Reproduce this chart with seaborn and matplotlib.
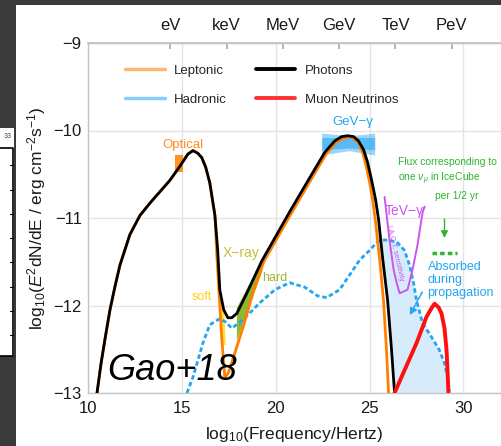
import numpy as np
import matplotlib
matplotlib.use("Agg")
import matplotlib.pyplot as plt
from matplotlib.patches import Rectangle
from matplotlib.lines import Line2D
import seaborn as sns

# ---------------------------------------------------------------------------
# Spectral energy distribution: x = log10(nu / Hz), y = log10(E^2 dN/dE)
# ---------------------------------------------------------------------------
photons_logf = [10.48, 10.69, 10.90, 11.17, 11.44, 11.70, 12.23, 12.77, 13.30, 13.83,
                14.36, 14.89, 15.32, 15.59, 15.85, 16.06, 16.27, 16.49,
                16.76, 16.91, 17.02, 17.23, 17.45, 17.66, 17.93, 18.46, 19.26, 20.74,
                21.81, 22.61, 23.14, 23.51, 23.83, 24.15, 24.41, 24.68, 24.89, 25.11,
                25.32, 25.48, 25.69, 25.96, 26.17, 26.33]
photons_flux = [-13.00, -12.67, -12.39, -12.05, -11.78, -11.54, -11.19, -10.97, -10.83, -10.70,
                -10.57, -10.41, -10.27, -10.23, -10.26, -10.31, -10.42, -10.60,
                -10.97, -11.37, -11.82, -12.05, -12.14, -12.14, -12.09, -11.86, -11.49, -10.93,
                -10.54, -10.25, -10.12, -10.07, -10.06, -10.07, -10.12, -10.22, -10.36, -10.57,
                -10.79, -11.02, -11.45, -11.94, -12.51, -13.00]

lepto_logf = [10.48, 10.69, 10.90, 11.17, 11.44, 11.70, 12.23, 12.77, 13.30, 13.83,
              14.36, 14.89, 15.32, 15.59, 15.85, 16.06, 16.27, 16.49,
              16.76, 16.86, 16.97, 17.13, 17.29, 17.50, 17.87, 18.30, 18.78, 19.36,
              20.85, 21.91, 22.71, 23.24, 23.62, 23.94, 24.20, 24.41, 24.63, 24.79,
              25.00, 25.16, 25.32, 25.53, 25.74, 25.90, 26.01]
lepto_flux = [-13.00, -12.67, -12.39, -12.05, -11.78, -11.54, -11.19, -10.97, -10.83, -10.70,
              -10.57, -10.41, -10.27, -10.23, -10.26, -10.31, -10.42, -10.60,
              -10.97, -11.42, -11.82, -12.39, -12.83, -12.76, -12.51, -12.22, -11.86, -11.50,
              -10.94, -10.55, -10.26, -10.13, -10.09, -10.07, -10.10, -10.14, -10.25, -10.38,
              -10.59, -10.79, -11.05, -11.46, -11.94, -12.51, -13.00]

hadro_logf = [15.27, 15.59, 16.12, 16.49, 17.02, 17.34, 17.66, 18.09, 18.46, 19.15,
              19.95, 20.74, 21.54, 22.23, 22.71, 23.40, 23.94, 24.47, 25.00, 25.43,
              25.80, 26.44, 26.86, 27.13, 27.34, 27.50, 27.82, 28.30, 28.72, 28.99,
              29.15, 29.26]
hadro_flux = [-13.00, -12.82, -12.43, -12.22, -12.15, -12.19, -12.26, -12.19, -12.12, -11.97,
              -11.82, -11.74, -11.79, -11.89, -11.91, -11.82, -11.65, -11.48, -11.37, -11.27,
              -11.25, -11.27, -11.37, -11.54, -11.74, -11.94, -12.20, -12.36, -12.51, -12.66,
              -12.82, -12.98]

nu_logf = [26.33, 26.86, 27.50, 28.03, 28.30, 28.46, 28.67, 28.83, 28.99, 29.10, 29.15, 29.20]
nu_flux = [-13.00, -12.74, -12.43, -12.13, -12.03, -11.98, -12.02, -12.09, -12.26, -12.51, -12.74, -13.00]

iact_logf = [25.80, 26.06, 26.28, 26.44, 26.60, 27.02, 27.29, 27.55, 27.82, 27.93]
iact_flux = [-10.76, -11.25, -11.59, -11.74, -11.86, -11.82, -11.59, -11.31, -10.94, -10.87]

# Fermi-LAT style butterflies
gev_logf = [22.45, 23.90, 25.27]
gev_lo_outer = [-10.28, -10.23, -10.28]
gev_hi_outer = [-10.03, -10.06, -10.03]
gev_lo_inner = [-10.22, -10.20, -10.22]
gev_hi_inner = [-10.08, -10.08, -10.08]

hard_x_logf = [17.93, 19.30, 19.30, 17.93]
hard_x_flux = [-12.03, -11.46, -11.60, -12.40]
soft_x_logf = [16.97, 17.23, 17.34, 17.13]
soft_x_flux = [-11.94, -11.97, -12.45, -12.45]

optical_logf = [14.65, 15.05]
optical_lo = -10.47
optical_hi = -10.28

energy_ticks = [14.38, 17.38, 20.38, 23.38, 26.38, 29.38]
energy_labels = ["eV", "keV", "MeV", "GeV", "TeV", "PeV"]
freq_ticks = [10, 15, 20, 25, 30]
flux_ticks = [-13, -12, -11, -10, -9]

ORANGE = "#FF8000"
BLUE = "#22A5F2"
RED = "#FF1010"
PURPLE = "#CC55EE"
GREEN = "#2DB52D"

sns.set_theme(style="white")
plt.rcParams["font.family"] = ["Liberation Sans", "DejaVu Sans"]
plt.rcParams["mathtext.fontset"] = "custom"
plt.rcParams["mathtext.rm"] = "Liberation Sans"
plt.rcParams["mathtext.it"] = "Liberation Sans:italic"
plt.rcParams["mathtext.bf"] = "Liberation Sans:bold"

W, H = 501, 446
fig = plt.figure(figsize=(W / 100, H / 100), dpi=100, facecolor="#3a3a3a")

# slide background: white panel holding the plot, and a neighbouring panel
fig.add_artist(Rectangle((16 / W, 0), 1, (H - 5) / H, transform=fig.transFigure,
                         facecolor="white", edgecolor="none", zorder=-2))
fig.add_artist(Rectangle((0, 1 - 356 / H), 14 / W, (356 - 128) / H, transform=fig.transFigure,
                         facecolor="white", edgecolor="none", zorder=-2))
fig.add_artist(Line2D([0, 13 / W, 13 / W, 0], [1 - 148 / H, 1 - 148 / H, 1 - 356 / H, 1 - 356 / H],
                      transform=fig.transFigure, color="black", lw=1.2, zorder=-1))
for ty in [165, 190, 214, 238, 262, 287, 311, 335]:
    fig.add_artist(Line2D([10 / W, 13 / W], [1 - ty / H, 1 - ty / H],
                          transform=fig.transFigure, color="black", lw=0.8, zorder=-1))
fig.text(12 / W, 1 - 137 / H, "33", fontsize=5, color="#444444", ha="right", va="center")

ax = fig.add_axes([88 / W, 1 - 393 / H, (W - 88) / W, 350 / H])
ax.set_facecolor("white")

# absorbed part of the hadronic spectrum (between the photon cut-off and the unabsorbed curve)
hf = np.array(hadro_logf)
hy = np.array(hadro_flux)
pf = np.array(photons_logf)
py = np.array(photons_flux)
keep_h = hf >= 25.6
keep_p = (pf >= 25.6) & (py <= -11.27)
abs_f = np.concatenate([[25.6], hf[keep_h], [hf[-1]], pf[keep_p][::-1]])
abs_y = np.concatenate([[-11.26], hy[keep_h], [-13.0], py[keep_p][::-1]])
ax.fill(abs_f, abs_y, color="#d6ecfb", lw=0, zorder=1)

# GeV butterfly
ax.fill_between(gev_logf, gev_lo_outer, gev_hi_outer, color=BLUE, alpha=0.45, lw=0, zorder=2)
ax.fill_between(gev_logf, gev_lo_inner, gev_hi_inner, color=BLUE, alpha=0.55, lw=0, zorder=2)

# X-ray butterflies and optical point
ax.fill(hard_x_logf, hard_x_flux, color="#8DB832", lw=0, zorder=2)
ax.fill(soft_x_logf, soft_x_flux, color="#FFE033", lw=0, zorder=2)
ax.fill_between(optical_logf, optical_lo, optical_hi, color=ORANGE, alpha=0.85, lw=0, zorder=2)

sns.lineplot(x=hadro_logf, y=hadro_flux, ax=ax, color=BLUE, lw=2.0, sort=False,
             estimator=None, linestyle=(0, (1.6, 1.0)), zorder=3)
sns.lineplot(x=lepto_logf, y=lepto_flux, ax=ax, color=ORANGE, lw=2.0, sort=False,
             estimator=None, zorder=4)
sns.lineplot(x=photons_logf, y=photons_flux, ax=ax, color="black", lw=2.0, sort=False,
             estimator=None, zorder=5)
sns.lineplot(x=nu_logf, y=nu_flux, ax=ax, color=RED, lw=2.8, sort=False,
             estimator=None, zorder=6)
sns.lineplot(x=iact_logf, y=iact_flux, ax=ax, color=PURPLE, lw=1.4, sort=False,
             estimator=None, zorder=6)

ax.set_xlim(10, 32)
ax.set_ylim(-13, -9)
ax.set_xticks(freq_ticks)
ax.set_yticks(flux_ticks)
ax.grid(True, color="#e4e4e4", lw=1.0, zorder=0)
ax.set_axisbelow(True)
for side in ["left", "top", "bottom"]:
    ax.spines[side].set_color("#c4c4c4")
    ax.spines[side].set_linewidth(1.0)
ax.spines["right"].set_visible(False)
ax.tick_params(axis="x", length=0, labelsize=12, pad=6, labelcolor="#1a1a1a")
ax.tick_params(axis="y", length=2, color="#c4c4c4", labelsize=12, pad=2.5, labelcolor="#1a1a1a")

ax.set_xlabel("log$_{10}$(Frequency/Hertz)", fontsize=12.5, color="#1a1a1a", labelpad=6)
ax.set_ylabel("log$_{10}$($E^2$dN/dE / erg cm$^{-2}$s$^{-1}$)", fontsize=12.5,
              color="#1a1a1a", labelpad=4)

secax = ax.secondary_xaxis("top")
secax.set_xticks(energy_ticks, labels=energy_labels)
secax.tick_params(direction="in", length=4, color="#aaaaaa", labelsize=12, pad=7,
                  labelcolor="#1a1a1a")
secax.spines["top"].set_color("#c4c4c4")

# legend
handles = [Line2D([], [], color="#FFB870", lw=2.5),
           Line2D([], [], color="#86CFFA", lw=2.5),
           Line2D([], [], color="black", lw=2.8),
           Line2D([], [], color="#FF3030", lw=2.8)]
labels = ["Leptonic", "Hadronic", "Photons", "Muon Neutrinos"]
ax.legend(handles, labels, ncol=2, frameon=False, loc="upper left",
          bbox_to_anchor=(0.074, 0.957), fontsize=9.5, handlelength=3.0,
          handletextpad=0.7, columnspacing=2.2, labelspacing=1.25, borderpad=0)

# annotations
ax.text(15.08, -10.17, "Optical", color="#FF8C1A", fontsize=9.5, ha="center", va="center")
ax.text(24.1, -9.90, "GeV−γ", color=BLUE, fontsize=9.5, ha="center", va="center")
ax.text(17.18, -11.40, "X−ray", color="#C2C23A", fontsize=10, ha="left", va="center")
ax.text(16.06, -11.90, "soft", color="#FFD21A", fontsize=9, ha="center", va="center")
ax.text(19.95, -11.69, "hard", color="#9DB837", fontsize=9, ha="center", va="center")
ax.text(26.86, -10.92, "TeV−γ", color=PURPLE, fontsize=10, ha="center", va="center")
ax.text(26.33, -11.40, "I.A.C.T. sensitivity", color=PURPLE, fontsize=5.2,
        rotation=-77, ha="center", va="center")

ax.text(26.49, -10.36, "Flux corresponding to", color=GREEN, fontsize=7.4, ha="left", va="center")
ax.text(26.49, -10.55, "one $\\nu_\\mu$ in IceCube", color=GREEN, fontsize=7.4, ha="left", va="center")
ax.text(28.51, -10.75, "per 1/2 yr", color=GREEN, fontsize=7.4, ha="left", va="center")
ax.annotate("", xy=(28.99, -11.26), xytext=(28.99, -10.98),
            arrowprops=dict(arrowstyle="-|>", color=GREEN, lw=1.0, mutation_scale=10))
ax.plot([28.35, 29.63], [-11.40, -11.40], color=GREEN, lw=2.5, linestyle=(0, (1.3, 0.9)))

ax.text(28.09, -11.56, "Absorbed", color=BLUE, fontsize=9, ha="left", va="center")
ax.text(28.09, -11.71, "during", color=BLUE, fontsize=9, ha="left", va="center")
ax.text(28.09, -11.86, "propagation", color=BLUE, fontsize=9, ha="left", va="center")
ax.annotate("", xy=(27.07, -12.14), xytext=(27.87, -11.82),
            arrowprops=dict(arrowstyle="-|>", color=BLUE, lw=1.2, linestyle=(0, (2, 1)),
                            mutation_scale=10))

ax.text(11.0, -12.85, "Gao+18", fontsize=26, style="italic", color="black",
        ha="left", va="baseline", zorder=7)

fig.savefig("out.png", dpi=100, facecolor=fig.get_facecolor())
